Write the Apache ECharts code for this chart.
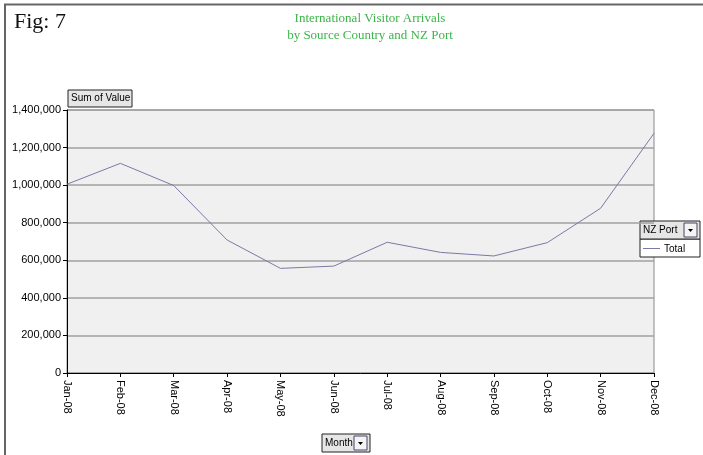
<!DOCTYPE html>
<html>
<head>
<meta charset="utf-8">
<script src="https://cdn.jsdelivr.net/npm/echarts@6/dist/echarts.min.js"></script>
<style>
  html, body { margin: 0; padding: 0; background: #fff; }
  #chart { width: 703px; height: 455px; }
</style>
</head>
<body>
<div id="chart"></div>
<script>
const months = ['Jan-08', 'Feb-08', 'Mar-08', 'Apr-08', 'May-08', 'Jun-08',
                'Jul-08', 'Aug-08', 'Sep-08', 'Oct-08', 'Nov-08', 'Dec-08'];
const totalArrivals = [1005000, 1116000, 998000, 708000, 557000, 569000,
                       696000, 642000, 623000, 694000, 877000, 1276000];
const yTicks = { min: 0, max: 1400000, interval: 200000 };

const chart = echarts.init(document.getElementById('chart'));

// button-like field widgets from the pivot chart
function fieldButton(x, y, w, h, label, withArrow) {
    const parts = [
        { type: 'rect', shape: { x: x, y: y, width: w, height: h },
          style: { fill: '#e6e6e6', stroke: '#222', lineWidth: 1 } },
        { type: 'text', style: { x: x + 3, y: y + h / 2, text: label, fill: '#000',
          font: '10px "Liberation Sans", Arial', verticalAlign: 'middle' } }
    ];
    if (withArrow) {
        const ax = x + w - 16;
        parts.push({ type: 'rect', shape: { x: ax, y: y + 2, width: 13, height: h - 4 },
                     style: { fill: '#f4f4f4', stroke: '#446', lineWidth: 1 } });
        parts.push({ type: 'polygon', shape: { points: [[ax + 4, y + h / 2 - 1], [ax + 9, y + h / 2 - 1], [ax + 6.5, y + h / 2 + 2]] },
                     style: { fill: '#000' } });
    }
    return parts;
}

const graphics = [
    // frame
    { type: 'line', shape: { x1: 4, y1: 4.5, x2: 703, y2: 4.5 }, style: { stroke: '#666', lineWidth: 2 } },
    { type: 'line', shape: { x1: 5, y1: 4, x2: 5, y2: 455 }, style: { stroke: '#666', lineWidth: 2 } },
    { type: 'text', style: { x: 14, y: 22, text: 'Fig: 7', fill: '#111',
      font: '22px "Liberation Serif", "Times New Roman", serif', verticalAlign: 'middle' } },
    { type: 'text', style: { x: 370, y: 19, text: 'International Visitor Arrivals', fill: '#3cb54a',
      font: '13px "Liberation Serif", serif', align: 'center', verticalAlign: 'middle' } },
    { type: 'text', style: { x: 370, y: 36, text: 'by Source Country and NZ Port', fill: '#3cb54a',
      font: '13px "Liberation Serif", serif', align: 'center', verticalAlign: 'middle' } },
    // legend box
    { type: 'rect', shape: { x: 640, y: 239, width: 60, height: 18 },
      style: { fill: '#fff', stroke: '#222', lineWidth: 1 } },
    { type: 'line', shape: { x1: 643, y1: 248.5, x2: 660, y2: 248.5 }, style: { stroke: '#7a7aa6', lineWidth: 1 } },
    { type: 'text', style: { x: 664, y: 249, text: 'Total', fill: '#000',
      font: '10px "Liberation Sans", Arial', verticalAlign: 'middle' } }
].concat(
    fieldButton(68, 90, 64, 17, 'Sum of Value', false),
    fieldButton(640, 221, 60, 18, 'NZ Port', true),
    fieldButton(322, 434, 48, 18, 'Month', true)
);

const option = {
    animation: false,
    grid: { left: 67, right: 49, top: 110, bottom: 82,
            show: true, backgroundColor: '#f0f0f0', borderColor: '#888', borderWidth: 1 },
    xAxis: {
        type: 'category',
        data: months,
        boundaryGap: false,
        axisLine: { lineStyle: { color: '#000' } },
        axisTick: { show: true, alignWithLabel: true, length: 4, lineStyle: { color: '#000' } },
        axisLabel: { rotate: -90, color: '#000', fontSize: 11, margin: 7,
                     fontFamily: '"Liberation Sans", Arial' },
        splitLine: { show: false }
    },
    yAxis: {
        type: 'value',
        min: yTicks.min, max: yTicks.max, interval: yTicks.interval,
        axisLine: { show: true, lineStyle: { color: '#000' } },
        axisTick: { show: true, length: 4, lineStyle: { color: '#000' } },
        axisLabel: { color: '#000', fontSize: 11, margin: 6,
                     fontFamily: '"Liberation Sans", Arial',
                     formatter: v => v.toLocaleString('en-US') },
        splitLine: { show: true, lineStyle: { color: '#a0a0a0', width: 1.5 } }
    },
    series: [{
        name: 'Total',
        type: 'line',
        data: totalArrivals,
        symbol: 'none',
        lineStyle: { color: '#7a7aa6', width: 1 }
    }],
    graphic: graphics
};

chart.setOption(option);
</script>
</body>
</html>
